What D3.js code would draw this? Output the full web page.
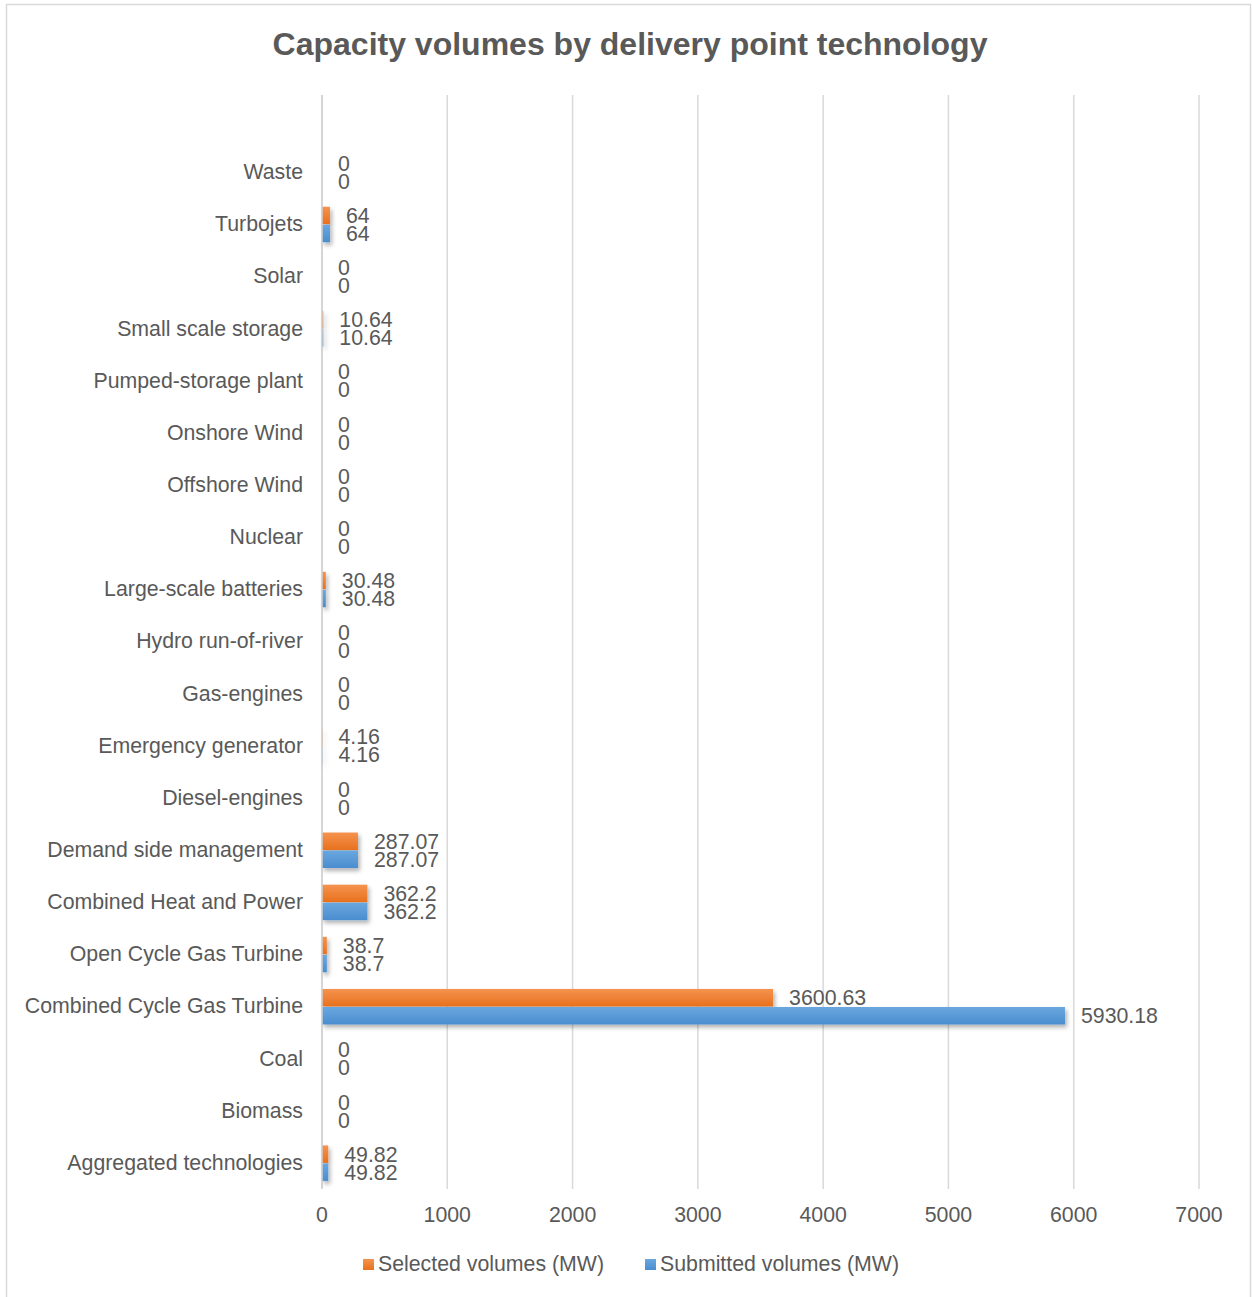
<!DOCTYPE html>
<html>
<head>
<meta charset="utf-8">
<script src="https://cdn.jsdelivr.net/npm/d3@7"></script>
<style>
  body { margin: 0; background: #fff; }
  text { font-family: "Liberation Sans", Arial, sans-serif; fill: #595959; }
</style>
</head>
<body>
<svg id="chart" width="1252" height="1297"></svg>
<script>
// chart data, top to bottom as in the picture
const categories = ['Waste', 'Turbojets', 'Solar', 'Small scale storage', 'Pumped-storage plant',
    'Onshore Wind', 'Offshore Wind', 'Nuclear', 'Large-scale batteries', 'Hydro run-of-river',
    'Gas-engines', 'Emergency generator', 'Diesel-engines', 'Demand side management',
    'Combined Heat and Power', 'Open Cycle Gas Turbine', 'Combined Cycle Gas Turbine',
    'Coal', 'Biomass', 'Aggregated technologies'];
const selected = [0, 64, 0, 10.64, 0, 0, 0, 0, 30.48, 0, 0, 4.16, 0, 287.07, 362.2, 38.7, 3600.63, 0, 0, 49.82];
const submitted = [0, 64, 0, 10.64, 0, 0, 0, 0, 30.48, 0, 0, 4.16, 0, 287.07, 362.2, 38.7, 5930.18, 0, 0, 49.82];
const xTicks = [0, 1000, 2000, 3000, 4000, 5000, 6000, 7000];
const seriesNames = ['Selected volumes (MW)', 'Submitted volumes (MW)'];

const svg = d3.select('#chart');
const defs = svg.append('defs');
const fs = '21.3px';

// bar gradients + shadow
const grads = [['gOrange', '#f5934f', '#e8711d'], ['gBlue', '#6aa7df', '#4a8dcf']];
grads.forEach(g => {
    const lg = defs.append('linearGradient').attr('id', g[0])
        .attr('x1', 0).attr('y1', 0).attr('x2', 0).attr('y2', 1);
    lg.append('stop').attr('offset', '0%').attr('stop-color', g[1]);
    lg.append('stop').attr('offset', '100%').attr('stop-color', g[2]);
});
const shadow = defs.append('filter').attr('id', 'shadow')
    .attr('x', '-5%').attr('y', '-30%').attr('width', '120%').attr('height', '180%');
shadow.append('feDropShadow').attr('dx', 2).attr('dy', 3).attr('stdDeviation', 2)
    .attr('flood-color', '#000').attr('flood-opacity', 0.3);

// outer frame
svg.append('rect')
    .attr('x', 6.5).attr('y', 4.5).attr('width', 1244).attr('height', 1310)
    .attr('fill', 'none').attr('stroke', '#d9d9d9').attr('stroke-width', 1.5);

svg.append('text')
    .attr('x', 630).attr('y', 44)
    .attr('text-anchor', 'middle').attr('dominant-baseline', 'central')
    .style('font-size', '32px').style('font-weight', 'bold')
    .text('Capacity volumes by delivery point technology');

const x = d3.scaleLinear().domain([0, 7000]).range([322, 1199]);
const y = d3.scaleBand().domain(categories).range([146, 1189]);
const plotTop = 95, plotBottom = 1189;

// gridlines
svg.append('g')
    .selectAll('line')
    .data(xTicks)
    .enter()
    .append('line')
    .attr('x1', d => x(d)).attr('x2', d => x(d))
    .attr('y1', plotTop).attr('y2', plotBottom)
    .attr('stroke', '#d9d9d9').attr('stroke-width', 1.5);

// x tick labels
svg.append('g')
    .selectAll('text')
    .data(xTicks)
    .enter()
    .append('text')
    .attr('x', d => x(d)).attr('y', 1215)
    .attr('text-anchor', 'middle').attr('dominant-baseline', 'central')
    .style('font-size', fs)
    .text(d => d);

// category labels
svg.append('g')
    .selectAll('text')
    .data(categories)
    .enter()
    .append('text')
    .attr('x', 303).attr('y', d => y(d) + y.bandwidth() / 2)
    .attr('text-anchor', 'end').attr('dominant-baseline', 'central')
    .style('font-size', fs)
    .text(d => d);

const barH = 17.5;
const rows = categories.map((c, i) => ({ cat: c, sel: selected[i], sub: submitted[i] }));
const series = [
    { key: 'sel', fill: 'url(#gOrange)', off: -barH },
    { key: 'sub', fill: 'url(#gBlue)', off: 0.5 }
];

series.forEach(s => {
    const g = svg.append('g').attr('filter', 'url(#shadow)');
    g.selectAll('rect')
        .data(rows.filter(d => d[s.key] > 0))
        .enter()
        .append('rect')
        .attr('x', x(0))
        .attr('y', d => y(d.cat) + y.bandwidth() / 2 + s.off)
        .attr('width', d => x(d[s.key]) - x(0))
        .attr('height', barH)
        .attr('fill', s.fill);

    svg.append('g')
        .selectAll('text')
        .data(rows)
        .enter()
        .append('text')
        .attr('x', d => x(d[s.key]) + 16)
        .attr('y', d => y(d.cat) + y.bandwidth() / 2 + s.off + barH / 2 + 0.5)
        .attr('dominant-baseline', 'central')
        .style('font-size', fs)
        .text(d => d[s.key]);
});

// left axis line
svg.append('line')
    .attr('x1', x(0)).attr('x2', x(0)).attr('y1', plotTop).attr('y2', plotBottom)
    .attr('stroke', '#d0d0d0').attr('stroke-width', 1.5);

// legend
const legend = svg.append('g');
const legendX = [363, 645];
const legendFill = ['url(#gOrange)', 'url(#gBlue)'];
seriesNames.forEach((name, i) => {
    legend.append('rect')
        .attr('x', legendX[i]).attr('y', 1259)
        .attr('width', 11).attr('height', 11)
        .attr('fill', legendFill[i]);
    legend.append('text')
        .attr('x', legendX[i] + 15).attr('y', 1264)
        .attr('dominant-baseline', 'central')
        .style('font-size', fs)
        .text(name);
});
</script>
</body>
</html>
